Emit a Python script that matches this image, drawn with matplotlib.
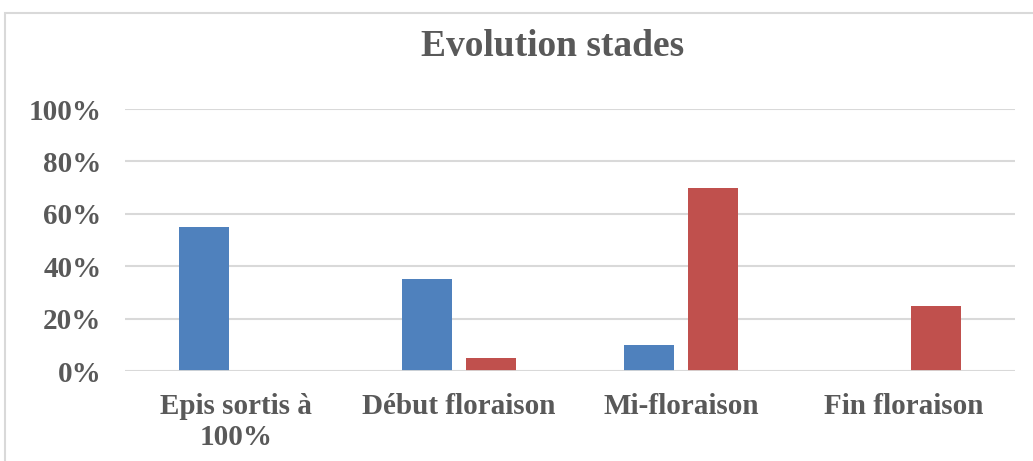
import matplotlib.pyplot as plt
import numpy as np
from matplotlib.patches import Rectangle

categories = ['Epis sortis à\n100%', 'Début floraison', 'Mi-floraison', 'Fin floraison']
serie1 = [0.55, 0.35, 0.10, 0.0]
serie2 = [0.0, 0.05, 0.70, 0.25]
yticks = [0, 0.2, 0.4, 0.6, 0.8, 1.0]
ytick_labels = ['0%', '20%', '40%', '60%', '80%', '100%']

text_col = '#595959'
grid_col = '#D9D9D9'
plt.rcParams['font.family'] = ['Liberation Serif', 'DejaVu Serif']

fig = plt.figure(figsize=(10.33, 4.61), dpi=100, facecolor='white')
fig.patches.append(Rectangle((5 / 1033, -0.1), 1.2, 1 - 13 / 461 + 0.1,
                             transform=fig.transFigure, fill=False,
                             edgecolor=grid_col, linewidth=1.5))

ax = fig.add_axes([125 / 1033, 1 - 371 / 461, 890 / 1033, (371 - 109) / 461])
x = np.arange(len(categories))
w = 0.225
gap = 0.063
ax.bar(x - (w + gap) / 2, serie1, w, color='#4F81BD', zorder=3)
ax.bar(x + (w + gap) / 2, serie2, w, color='#C0504D', zorder=3)

ax.set_xlim(-0.5, len(categories) - 0.5)
ax.set_ylim(0, 1.0)
ax.set_yticks(yticks)
ax.set_yticklabels(ytick_labels)
ax.set_xticks(x)
ax.set_xticklabels(categories, linespacing=1.2)
for spine in ax.spines.values():
    spine.set_visible(False)
ax.grid(axis='y', color=grid_col, linewidth=1.5, zorder=0)
ax.axhline(0, color=grid_col, linewidth=2, zorder=4)
ax.tick_params(axis='both', length=0, labelsize=21, labelcolor=text_col)
ax.tick_params(axis='y', pad=17)
ax.tick_params(axis='x', pad=16)
for lbl in ax.get_xticklabels() + ax.get_yticklabels():
    lbl.set_fontweight('bold')

fig.text(0.535, 1 - 46 / 461, 'Evolution stades', ha='center', va='center',
         fontsize=27, fontweight='bold', color=text_col)

fig.savefig('out.png', dpi=100, facecolor='white')
